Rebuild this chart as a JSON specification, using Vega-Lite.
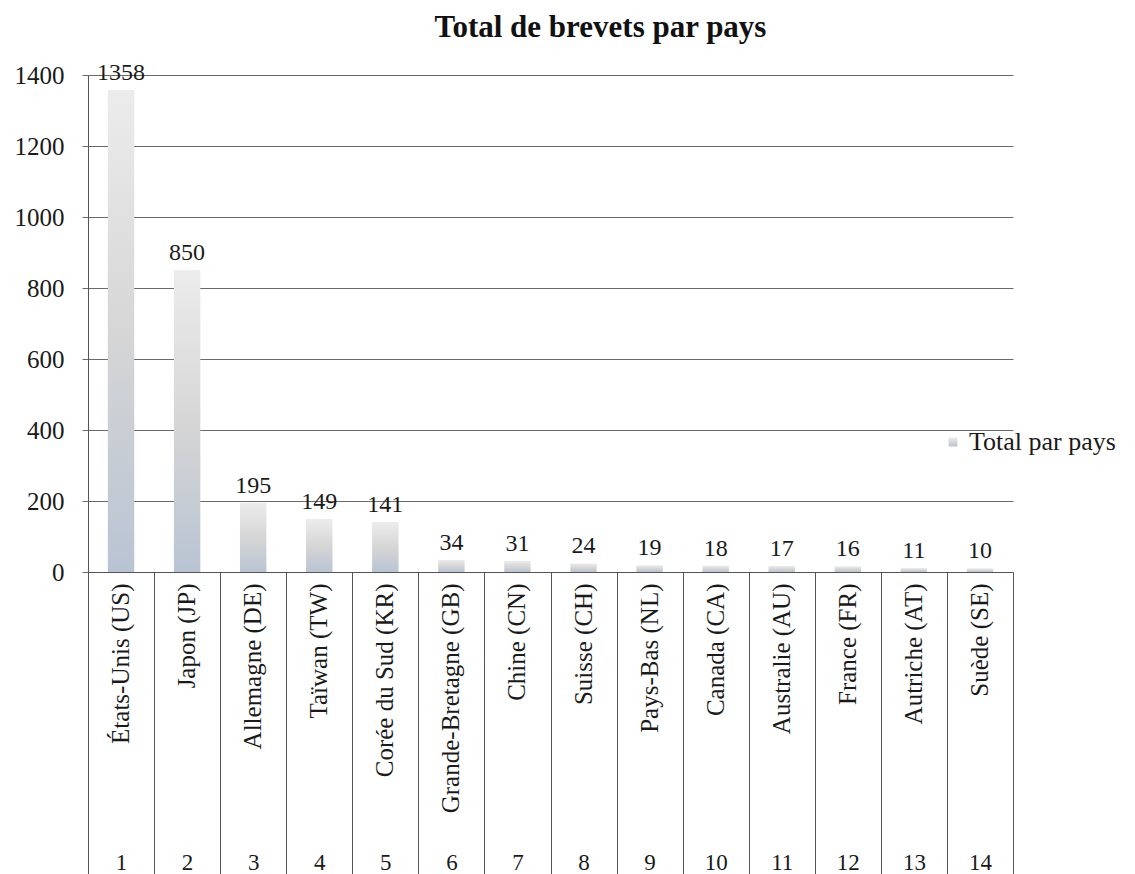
{
  "$schema": "https://vega.github.io/schema/vega-lite/v6.json",
  "width": 925,
  "height": 497,
  "autosize": "none",
  "padding": {"left": 88, "top": 75, "right": 122, "bottom": 302},
  "background": "white",
  "title": {
    "text": "Total de brevets par pays",
    "font": "Liberation Serif",
    "fontSize": 31,
    "fontWeight": "bold",
    "color": "#111",
    "anchor": "middle",
    "frame": "group",
    "dx": 50,
    "offset": 17
  },
  "data": {
    "values": [
      {"rang": 1, "pays": "États-Unis (US)", "total": 1358},
      {"rang": 2, "pays": "Japon (JP)", "total": 850},
      {"rang": 3, "pays": "Allemagne (DE)", "total": 195},
      {"rang": 4, "pays": "Taïwan (TW)", "total": 149},
      {"rang": 5, "pays": "Corée du Sud (KR)", "total": 141},
      {"rang": 6, "pays": "Grande-Bretagne (GB)", "total": 34},
      {"rang": 7, "pays": "Chine (CN)", "total": 31},
      {"rang": 8, "pays": "Suisse (CH)", "total": 24},
      {"rang": 9, "pays": "Pays-Bas (NL)", "total": 19},
      {"rang": 10, "pays": "Canada (CA)", "total": 18},
      {"rang": 11, "pays": "Australie (AU)", "total": 17},
      {"rang": 12, "pays": "France (FR)", "total": 16},
      {"rang": 13, "pays": "Autriche (AT)", "total": 11},
      {"rang": 14, "pays": "Suède (SE)", "total": 10}
    ]
  },
  "config": {
    "view": {"stroke": null},
    "axis": {"labelFont": "Liberation Serif", "labelColor": "#1a1a1a"}
  },
  "resolve": {"scale": {"x": "independent"}, "axis": {"x": "independent"}},
  "layer": [
    {
      "mark": {
        "type": "bar",
        "color": {"gradient": "linear", "x1": 0, "y1": 0, "x2": 0, "y2": 1,
          "stops": [{"offset": 0, "color": "#ececec"}, {"offset": 0.5, "color": "#d6d6d6"}, {"offset": 1, "color": "#b9c4d3"}]}
      },
      "encoding": {
        "x": {
          "field": "pays",
          "type": "nominal",
          "sort": null,
          "scale": {"type": "band", "paddingInner": 0.6, "paddingOuter": 0.3},
          "axis": {
            "orient": "bottom",
            "title": null,
            "labelAngle": 270,
            "labelAlign": "right",
            "labelBaseline": "middle",
            "labelFontSize": 25,
            "labelPadding": 11,
            "labelLimit": 0,
            "labelOverlap": false,
            "ticks": false,
            "domainColor": "#555",
            "grid": false
          }
        },
        "y": {
          "field": "total",
          "type": "quantitative",
          "scale": {"domain": [0, 1400], "nice": false},
          "axis": {
            "title": null,
            "values": [0, 200, 400, 600, 800, 1000, 1200, 1400],
            "format": "d",
            "labelFontSize": 25,
            "grid": true,
            "gridColor": "#6a6a6a",
            "gridOpacity": 1,
            "tickSize": 6,
            "tickColor": "#6a6a6a",
            "domainColor": "#555",
            "labelPadding": 18
          }
        },
        "opacity": {
          "datum": "Total par pays",
          "scale": {"range": [1]},
          "legend": {
            "title": null,
            "orient": "none",
            "legendX": 852,
            "legendY": 354,
            "symbolType": "square",
            "symbolSize": 80,
            "labelFont": "Liberation Serif",
            "labelFontSize": 26,
            "labelColor": "#1a1a1a",
            "labelOffset": 3,
            "labelLimit": 0,
            "padding": 0,
            "encode": {"symbols": {"update": {"fill": {"value": "#8e8e8e"}, "stroke": {"value": "transparent"}, "opacity": {"value": 1}}}}
          }
        }
      }
    },
    {
      "mark": {"type": "text", "baseline": "alphabetic", "dy": -10, "font": "Liberation Serif", "fontSize": 24, "color": "#1a1a1a"},
      "encoding": {
        "x": {
          "field": "rang",
          "type": "ordinal",
          "scale": {"type": "band", "paddingInner": 0, "paddingOuter": 0},
          "axis": {
            "orient": "bottom",
            "title": null,
            "labelAngle": 0,
            "labelFontSize": 23,
            "labelBaseline": "alphabetic",
            "labelPadding": -5,
            "domain": false,
            "ticks": true,
            "tickBand": "extent",
            "tickSize": 302,
            "tickColor": "#555",
            "grid": false
          }
        },
        "y": {"field": "total", "type": "quantitative"},
        "text": {"field": "total", "type": "quantitative"}
      }
    }
  ]
}
